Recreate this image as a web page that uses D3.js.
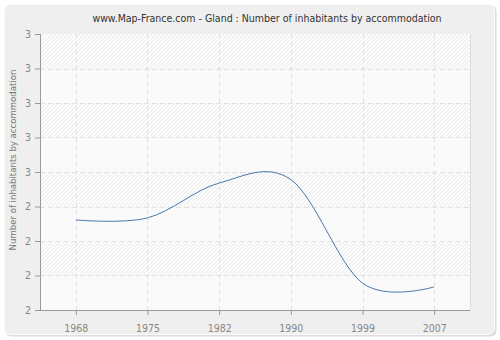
<!DOCTYPE html>
<html>
<head>
<meta charset="utf-8">
<script src="https://cdn.jsdelivr.net/npm/d3@7"></script>
<style>
body{margin:0;background:#fff;}
svg text{font-family:"DejaVu Sans Condensed","DejaVu Sans",sans-serif;font-stretch:condensed;}
</style>
</head>
<body>
<svg></svg>
<script>
var years=["1968","1975","1982","1990","1999","2007"]
var values=[2.361,2.367,2.468,2.478,2.178,2.167]
var yTicks=[2.1,2.2,2.3,2.4,2.5,2.6,2.7,2.8,2.9]

var screen={width:500,height:340}
var margins={top:34,right:30,bottom:30,left:40}
var width=screen.width-margins.left-margins.right
var height=screen.height-margins.top-margins.bottom

var svg=d3.select("svg")
    .attr("width",screen.width)
    .attr("height",screen.height)

// outer panel
svg.append("rect")
    .attr("x",5.5).attr("y",5.5)
    .attr("width",491).attr("height",331)
    .attr("rx",6)
    .attr("fill","#dcdcdc")
svg.append("rect")
    .attr("x",4.5).attr("y",4.5)
    .attr("width",490).attr("height",330)
    .attr("rx",6)
    .attr("fill","#efefef")
    .attr("stroke","#fafafa")

var defs=svg.append("defs")
var pat=defs.append("pattern")
    .attr("id","hatch")
    .attr("patternUnits","userSpaceOnUse")
    .attr("width",4).attr("height",4)
pat.append("rect").attr("width",4).attr("height",4).attr("fill","#fcfcfc")
pat.append("path")
    .attr("d","M-1,1 l2,-2 M0,4 l4,-4 M3,5 l2,-2")
    .attr("stroke","#e9e9e9")
    .attr("stroke-width",1)

var xScale=d3.scalePoint()
    .domain(years)
    .range([0,width])
    .padding(0.5)

var yScale=d3.scaleLinear()
    .domain([yTicks[0],yTicks[yTicks.length-1]])
    .range([height,0])

var g=svg.append("g")
    .attr("id","graph")
    .attr("transform","translate("+margins.left+","+margins.top+")")

// alternating bands
g.selectAll(".band")
    .data(yTicks.slice(0,-1))
    .enter()
    .append("rect")
    .attr("x",0)
    .attr("width",width)
    .attr("y",function(d,i){return yScale(yTicks[i+1])})
    .attr("height",function(d,i){return yScale(d)-yScale(yTicks[i+1])})
    .attr("fill",function(d,i){return (yTicks.length-2-i)%2==0?"url(#hatch)":"#fafafa"})

// grid
g.selectAll(".hgrid")
    .data(yTicks.slice(1,-1))
    .enter()
    .append("line")
    .attr("x1",0).attr("x2",width)
    .attr("y1",function(d){return Math.round(yScale(d))+0.5})
    .attr("y2",function(d){return Math.round(yScale(d))+0.5})
    .attr("stroke","#e2e2e2")
    .attr("stroke-dasharray","5,3")

g.selectAll(".vgrid")
    .data(years)
    .enter()
    .append("line")
    .attr("y1",0).attr("y2",height)
    .attr("x1",function(d){return Math.round(xScale(d))+0.5})
    .attr("x2",function(d){return Math.round(xScale(d))+0.5})
    .attr("stroke","#e2e2e2")
    .attr("stroke-dasharray","5,3")

g.append("line")
    .attr("x1",width+0.5).attr("x2",width+0.5)
    .attr("y1",0).attr("y2",height)
    .attr("stroke","#dedede")

// axes
var xAxis=d3.axisBottom(xScale).tickSize(5).tickSizeOuter(0)
var yAxis=d3.axisLeft(yScale).tickValues(yTicks).tickSize(5)
    .tickFormat(function(d){return Math.round(d)})

var xg=g.append("g")
    .attr("transform","translate(0,"+height+")")
    .call(xAxis)
xg.select(".domain").attr("d","M-5,0.5H"+width)

var yg=g.append("g").call(yAxis)
yg.select(".domain").attr("d","M0.5,0V"+height)

g.selectAll(".domain").attr("stroke","#999")
g.selectAll(".tick line").attr("stroke","#999")
g.selectAll(".tick text")
    .attr("fill","#888")
    .style("font-size","10.5px")
xg.selectAll(".tick text").attr("dy","1.3em")
yg.selectAll(".tick text").attr("x",-9)

// line
var line=d3.line()
    .x(function(d,i){return xScale(years[i])})
    .y(function(d){return yScale(d)})
    .curve(d3.curveCardinal.tension(0))

g.append("path")
    .datum(values)
    .attr("d",line)
    .attr("fill","none")
    .attr("stroke","#4a78ad")
    .attr("stroke-width",1)

// titles
svg.append("text")
    .attr("x",267).attr("y",22)
    .attr("text-anchor","middle")
    .attr("fill","#333")
    .style("font-size","10.5px")
    .text("www.Map-France.com - Gland : Number of inhabitants by accommodation")

svg.append("text")
    .attr("transform","translate(16,"+(margins.top+height/2-12)+") rotate(-90)")
    .attr("text-anchor","middle")
    .attr("fill","#777")
    .style("font-size","9.5px")
    .text("Number of inhabitants by accommodation")
</script>
</body>
</html>
